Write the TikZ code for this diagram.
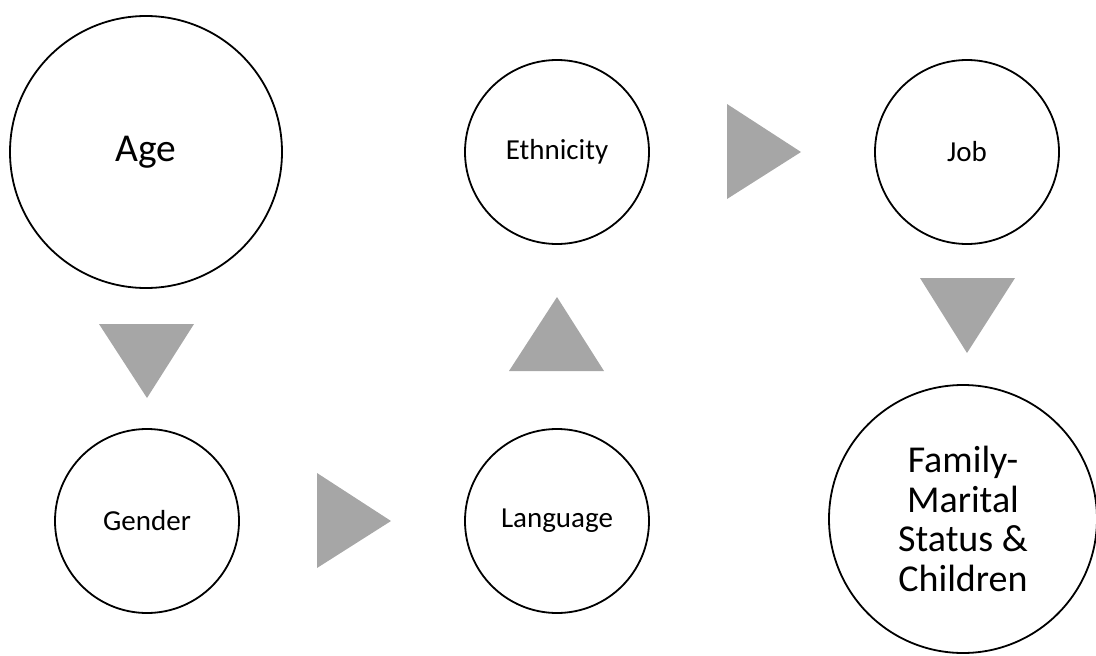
\documentclass[tikz,border=0pt]{standalone}
\usepackage{fontspec}
\setmainfont{Carlito}
\begin{document}
\begin{tikzpicture}[x=1pt,y=-1pt,
  circ/.style={circle,draw=black,line width=1.8pt,fill=white,inner sep=0pt,align=center},
  small/.style={circ,minimum size=184pt,font=\fontsize{29}{35}\selectfont},
  arrowtri/.style={fill=arrowgray,draw=none}]
\definecolor{arrowgray}{HTML}{A6A6A6}
\useasboundingbox (0,0) rectangle (1096,656);
\node[circ,minimum size=272pt,font=\fontsize{39.5}{47}\selectfont] (age) at (146,152) {Age};
\node[small] (gender) at (147,521) {Gender};
\node[small] (language) at (557,521) {Language};
\node[small] (ethnicity) at (557,152) {Ethnicity};
\node[small] (job) at (967,152) {Job};
\node[circ,minimum size=268pt,font=\fontsize{38}{39.7}\selectfont] (family) at (963,519) {Family-\\Marital\\Status \&\\Children};
\fill[arrowtri] (99,324) -- (194,324) -- (147,398) -- cycle;
\fill[arrowtri] (317,473) -- (317,568) -- (391,521) -- cycle;
\fill[arrowtri] (509,371) -- (604,371) -- (557,297) -- cycle;
\fill[arrowtri] (727,104) -- (727,199) -- (801,152) -- cycle;
\fill[arrowtri] (920,278) -- (1015,278) -- (967,353) -- cycle;
\end{tikzpicture}
\end{document}
